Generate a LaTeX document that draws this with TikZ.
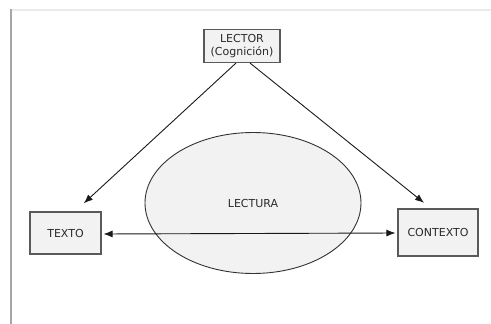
\documentclass[tikz,border=0pt]{standalone}
\usepackage{fontspec}
\setmainfont{DejaVu Sans}
\usetikzlibrary{positioning, arrows.meta, shapes.geometric}
\definecolor{boxfill}{HTML}{F2F2F2}
\definecolor{boxline}{HTML}{5A5A5A}
\definecolor{txt}{HTML}{2A2A2A}

\begin{document}
\begin{tikzpicture}[
  x=1pt, y=-1pt,
  font=\fontsize{11}{13.5}\selectfont,
  box/.style={draw=boxline, line width=1.1pt, fill=boxfill, text=txt, align=center, inner sep=2pt},
  lect/.style={ellipse, draw=black!80, line width=0.9pt, fill=boxfill, text=txt, inner sep=0pt, minimum width=216pt, minimum height=141pt},
  arr/.style={-{Latex[length=9pt, width=7pt]}, line width=0.9pt, black!90},
  darr/.style={{Latex[length=9pt, width=7pt]}-{Latex[length=9pt, width=7pt]}, line width=0.9pt, black!90}
]
\useasboundingbox (0,0) rectangle (491,324);
% page frame
\draw[black!8, line width=1.5pt] (11,10) -- (491,10);
\draw[black!35, line width=2pt] (11,9) -- (11,324);
\node[lect] (lectura) at (253,203) {LECTURA};
\node[box, minimum width=76pt, minimum height=33pt] (lector) at (242,46) {LECTOR\\(Cognición)};
\node[box, minimum width=71pt, minimum height=42pt] (texto) at (65.5,233) {TEXTO};
\node[box, minimum width=80pt, minimum height=47pt] (contexto) at (438,232.5) {CONTEXTO};
\draw[arr, shorten >=12pt] ([xshift=-6pt]lector.south) -- ([xshift=9.5pt]texto.north);
\draw[arr, shorten >=9pt] ([xshift=8pt]lector.south) -- ([xshift=-7pt]contexto.north);
\draw[darr, shorten <=2pt, shorten >=2pt] ([yshift=-1pt]texto.east) -- ([yshift=-0.5pt]contexto.west);
\end{tikzpicture}
\end{document}
